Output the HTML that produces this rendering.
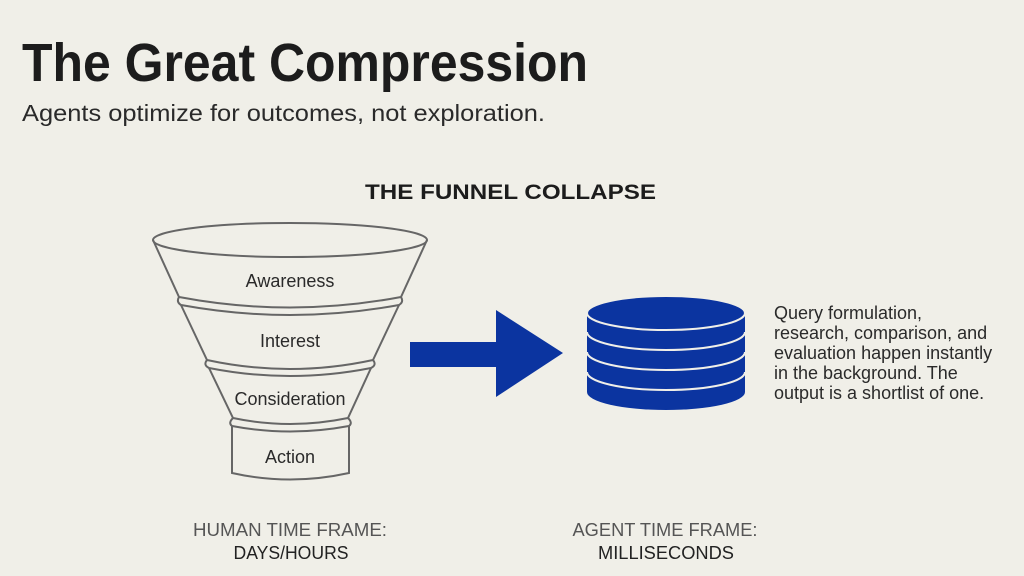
<!DOCTYPE html>
<html><head><meta charset="utf-8"><style>
html,body{margin:0;padding:0;background:#f0efe8;}
svg{display:block}
</style></head><body>
<svg width="1024" height="576" viewBox="0 0 1024 576" xmlns="http://www.w3.org/2000/svg" font-family="Liberation Sans, sans-serif">
<rect width="1024" height="576" fill="#f0efe8"/>
<text x="22" y="81" font-size="54" font-weight="bold" fill="#1c1c1c" textLength="566" lengthAdjust="spacingAndGlyphs">The Great Compression</text>
<text x="22" y="121" font-size="23" fill="#2a2a2a" textLength="523" lengthAdjust="spacingAndGlyphs">Agents optimize for outcomes, not exploration.</text>
<text x="365" y="199" font-size="21" font-weight="bold" fill="#1c1c1c" textLength="291" lengthAdjust="spacingAndGlyphs">THE FUNNEL COLLAPSE</text>

<g fill="none" stroke="#666" stroke-width="2">
  <ellipse cx="290" cy="240" rx="137" ry="17"/>
  <path d="M153 240 L179 297 Q290 318 401 297 L427 240"/>
  <path d="M179 297 Q176 302 181 305 Q290 325 399 305 Q404 302 401 297"/>
  <path d="M181 305 L207 360 Q290 378 373 360 L399 305"/>
  <path d="M207 360 Q203 365 209 368 Q290 384 371 368 Q377 365 373 360"/>
  <path d="M209 368 L233 418 Q290 430 348 418 L371 368"/>
  <path d="M233 418 Q228 423 232 426 Q290 437 349 426 Q353 423 348 418"/>
  <path d="M232 426 L232 473 Q290 486 349 473 L349 426"/>
</g>
<g font-size="18" fill="#2a2a2a" text-anchor="middle">
  <text x="290" y="287">Awareness</text>
  <text x="290" y="347">Interest</text>
  <text x="290" y="405">Consideration</text>
  <text x="290" y="463">Action</text>
</g>

<path d="M410 342 L496 342 L496 310 L563 353 L496 397 L496 367 L410 367 Z" fill="#0b34a0"/>

<g fill="#0b34a0" stroke="#f0efe8" stroke-width="2">
  <path d="M587 313 L587 392 A79 18 0 0 0 745 392 L745 313 Z" stroke="none"/>
  <path d="M587 372 A79 18 0 0 0 745 372" fill="none"/>
  <path d="M587 352 A79 18 0 0 0 745 352" fill="none"/>
  <path d="M587 332 A79 18 0 0 0 745 332" fill="none"/>
  <ellipse cx="666" cy="313" rx="79" ry="17"/>
</g>

<g font-size="18" fill="#2a2a2a">
  <text x="774" y="319">Query formulation,</text>
  <text x="774" y="339">research, comparison, and</text>
  <text x="774" y="359">evaluation happen instantly</text>
  <text x="774" y="379">in the background. The</text>
  <text x="774" y="399">output is a shortlist of one.</text>
</g>

<g font-size="18" text-anchor="middle">
  <text x="290" y="536" fill="#555" textLength="194" lengthAdjust="spacingAndGlyphs">HUMAN TIME FRAME:</text>
  <text x="291" y="559" fill="#222" textLength="115" lengthAdjust="spacingAndGlyphs">DAYS/HOURS</text>
  <text x="665" y="536" fill="#555" textLength="185" lengthAdjust="spacingAndGlyphs">AGENT TIME FRAME:</text>
  <text x="666" y="559" fill="#222" textLength="136" lengthAdjust="spacingAndGlyphs">MILLISECONDS</text>
</g>
</svg>
</body></html>
